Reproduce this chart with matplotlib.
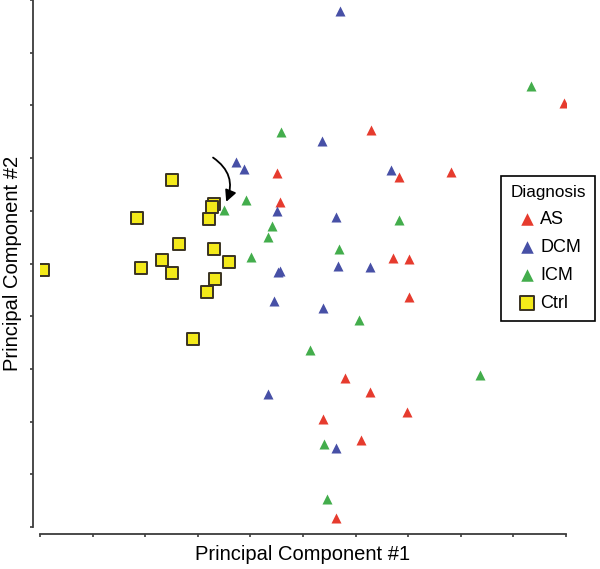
import numpy as np
import matplotlib
matplotlib.use("Agg")
import matplotlib.pyplot as plt

plt.rcParams["font.family"] = ["Liberation Sans", "DejaVu Sans"]

# PCA scores (arbitrary units, axes 0..10)
as_x = [4.50, 4.57, 6.30, 6.83, 7.82, 9.96, 6.71, 7.01, 7.01, 5.79, 6.27, 6.98, 5.38, 6.10, 5.63]
as_y = [6.71, 6.16, 7.53, 6.64, 6.74, 8.05, 5.10, 5.09, 4.36, 2.82, 2.56, 2.18, 2.04, 1.65, 0.18]

dcm_x = [5.70, 5.36, 3.73, 3.87, 6.68, 4.50, 5.62, 4.53, 4.57, 5.67, 6.27, 4.44, 5.38, 4.34, 5.63]
dcm_y = [9.79, 7.32, 6.93, 6.79, 6.78, 6.00, 5.88, 4.83, 4.85, 4.96, 4.93, 4.28, 4.15, 2.52, 1.49]

icm_x = [4.59, 9.33, 3.92, 3.49, 4.42, 4.34, 6.82, 5.68, 4.01, 6.07, 5.13, 8.37, 5.40, 5.46]
icm_y = [7.50, 8.37, 6.20, 6.01, 5.72, 5.51, 5.82, 5.28, 5.12, 3.93, 3.36, 2.88, 1.57, 0.53]

ctrl_x = [0.06, 2.51, 1.84, 3.31, 3.27, 3.21, 2.64, 3.31, 2.32, 1.92, 2.51, 3.33, 3.17, 2.91, 3.59]
ctrl_y = [4.88, 6.58, 5.86, 6.13, 6.07, 5.84, 5.37, 5.28, 5.07, 4.91, 4.82, 4.71, 4.46, 3.57, 5.03]

# arrow pointing at the ICM sample sitting next to the controls
arrow_from = (3.29, 7.01)
arrow_to = (3.54, 6.17)

fig = plt.figure(figsize=(6.0, 5.69), dpi=100)
ax = fig.add_axes([40/600, 42/569, 526/600, 527/569])

tri = dict(marker="^", s=52, linewidths=0)
ax.scatter(as_x, as_y, color="#e63b2e", label="AS", **tri)
ax.scatter(dcm_x, dcm_y, color="#4750a6", label="DCM", **tri)
ax.scatter(icm_x, icm_y, color="#43ad4c", label="ICM", **tri)
ax.scatter(ctrl_x, ctrl_y, marker="s", s=70, color="#f4ea1a", edgecolors="#3a3322",
           linewidths=1.4, label="Ctrl", zorder=3)

ax.annotate("", xy=arrow_to, xytext=arrow_from,
            arrowprops=dict(arrowstyle="-|>", color="black", lw=1.3,
                            mutation_scale=17, connectionstyle="arc3,rad=-0.4",
                            shrinkA=0, shrinkB=0))

ax.set_xlim(0, 10)
ax.set_ylim(0, 10)
ax.set_xticks(np.arange(0, 11))
ax.set_yticks(np.arange(0, 11))
ax.set_xticklabels([])
ax.set_yticklabels([])
ax.tick_params(direction="out", length=2.5, width=1.2, color="#3c3c3c")

for s in ["top", "right"]:
    ax.spines[s].set_visible(False)
for s in ["left", "bottom"]:
    ax.spines[s].set_position(("outward", 5))
    ax.spines[s].set_linewidth(1.3)
    ax.spines[s].set_color("#3c3c3c")

ax.set_xlabel("Principal Component #1", fontsize=14.5, labelpad=2)
ax.set_ylabel("Principal Component #2", fontsize=14.5, labelpad=2)

leg = ax.legend(title="Diagnosis", loc="upper left",
                bbox_to_anchor=(501/600, 1 - 176/569), bbox_transform=fig.transFigure,
                borderaxespad=0, fontsize=13, title_fontsize=12.3, frameon=True,
                fancybox=False, edgecolor="black", framealpha=1, markerscale=1.25,
                handletextpad=0.1, labelspacing=0.6, borderpad=0.52,
                handlelength=1.3)
leg.get_frame().set_linewidth(1.2)

fig.savefig("out.png", dpi=100)
